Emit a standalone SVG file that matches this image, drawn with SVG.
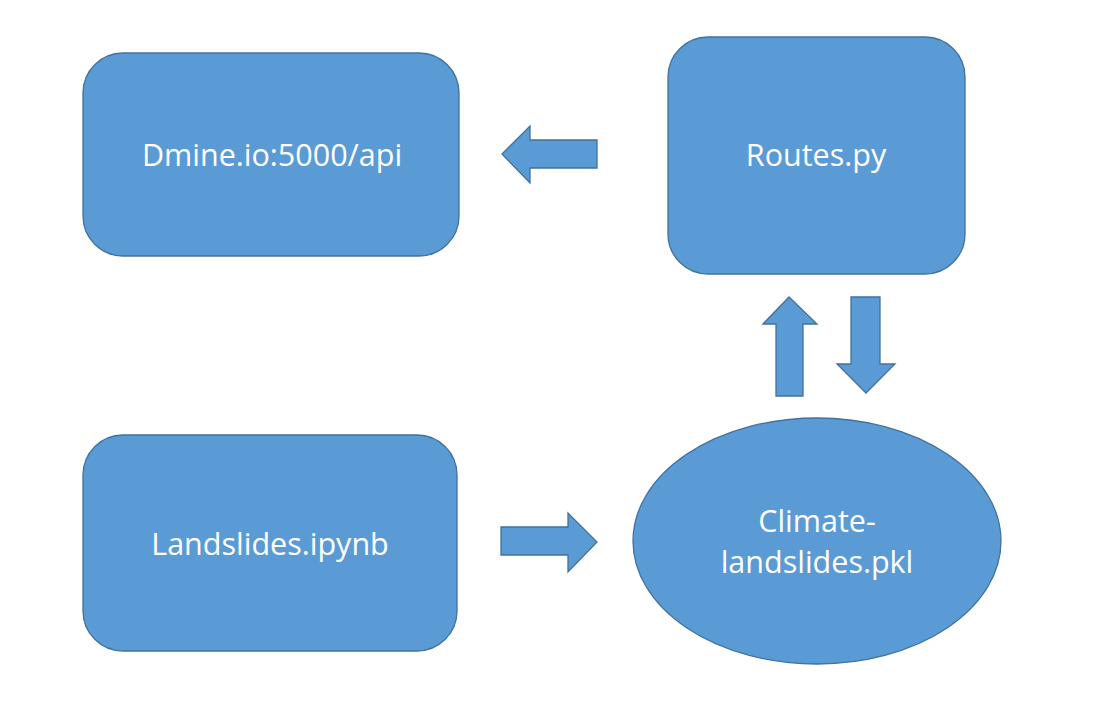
<svg xmlns="http://www.w3.org/2000/svg" width="1100" height="714" viewBox="0 0 1100 714">
<style>
.shape{fill:#5b9bd5;stroke:#41719c;stroke-width:1.3}
.lbl{fill:#ffffff;font-family:"Open Sans","Noto Sans",sans-serif;font-size:30.5px;text-anchor:middle}
</style>
<rect width="1100" height="714" fill="#ffffff"/>
<g id="dmine">
<rect class="shape" x="83" y="53" width="376" height="203" rx="40" ry="40"/>
<text class="lbl" x="272" y="166">Dmine.io:5000/api</text>
</g>
<g id="routes">
<rect class="shape" x="668" y="37" width="297" height="237" rx="40" ry="40"/>
<text class="lbl" x="816" y="166">Routes.py</text>
</g>
<g id="landslides">
<rect class="shape" x="83" y="435" width="374" height="216" rx="40" ry="40"/>
<text class="lbl" x="270" y="555">Landslides.ipynb</text>
</g>
<g id="pkl">
<ellipse class="shape" cx="817" cy="541" rx="184" ry="123"/>
<text class="lbl" x="817" y="532">Climate-</text>
<text class="lbl" x="817" y="573">landslides.pkl</text>
</g>
<g id="connectors">
<polygon class="shape" points="597,140 530,140 530,126 502,154 530,183 530,168 597,168"/>
<polygon class="shape" points="776,396 776,324 763,324 789,297 817,324 803,324 803,396"/>
<polygon class="shape" points="851,297 880,297 880,364 895,364 866,393 837,364 851,364"/>
<polygon class="shape" points="501,527 568,527 568,513 597,542 568,572 568,555 501,555"/>
</g>
</svg>
